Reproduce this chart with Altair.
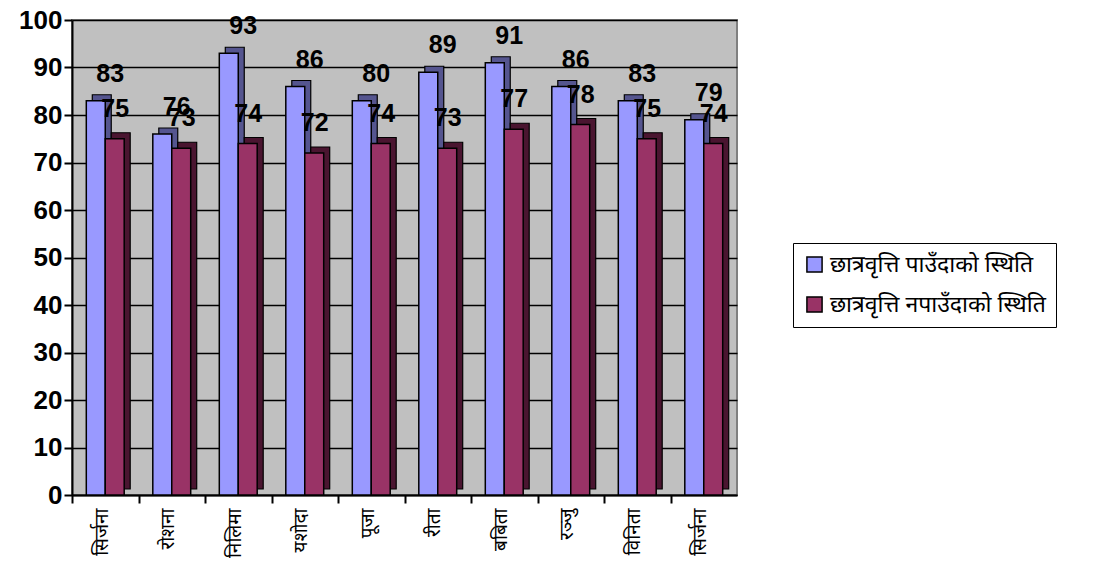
import json
import altair as alt
import pandas as pd

names = ["सिर्जना", "रोशना", "निलिमा", "यशोदा", "पूजा", "रीता", "बबिता", "रञ्जु", "विनिता", "सिर्जना"]
series = ["छात्रवृत्ति पाउँदाको स्थिति", "छात्रवृत्ति नपाउँदाको स्थिति"]
with_scholarship = [83, 76, 93, 86, 83, 89, 91, 86, 83, 79]
with_labels = ["83", "76", "93", "86", "80", "89", "91", "86", "83", "79"]
without_scholarship = [75, 73, 74, 72, 74, 73, 77, 78, 75, 74]
without_labels = ["75", "73", "74", "72", "74", "73", "77", "78", "75", "74"]
front_colors = ["#9999FF", "#993366"]
side_colors = ["#55558F", "#4A1530"]

rows = []
for i, n in enumerate(names):
    rows.append({"idx": i, "series": series[0], "value": with_scholarship[i], "label": with_labels[i], "order": 0})
    rows.append({"idx": i, "series": series[1], "value": without_scholarship[i], "label": without_labels[i], "order": 1})
df = pd.DataFrame(rows)

label_expr = json.dumps(names, ensure_ascii=False) + "[datum.value]"
W = 665
step = W / 10
p_in = 0.43
bandwidth = step * (1 - p_in)
depth = 6

x = alt.X("idx:O", title=None,
          scale=alt.Scale(paddingInner=p_in, paddingOuter=p_in / 2),
          axis=alt.Axis(labelExpr=label_expr, labelAngle=-90, labelAlign="right", labelBaseline="middle",
                        labelFontSize=19, labelFont="Noto Sans", labelColor="black", labelPadding=5,
                        tickOffset=-step / 2, labelOffset=step / 2 - 4, tickColor="black", tickSize=8,
                        tickWidth=2, domainColor="black", domainWidth=2, grid=False))
y = alt.Y("value:Q", title=None,
          scale=alt.Scale(domain=[0, 100], nice=False),
          axis=alt.Axis(values=list(range(0, 101, 10)), labelFontSize=26, labelFontWeight="bold",
                        labelFont="Arial", labelColor="black", tickColor="black", tickSize=8, tickWidth=2,
                        domainColor="black", domainWidth=2, labelPadding=2,
                        grid=True, gridColor="black", gridWidth=1.6))
xo_front = alt.XOffset("series:N", sort=series, scale=alt.Scale(paddingInner=0, range=[0, bandwidth]))
xo_side = alt.XOffset("series:N", sort=series, scale=alt.Scale(paddingInner=0, range=[depth, bandwidth + depth]))
color_side = alt.Color("series:N", sort=series, scale=alt.Scale(domain=series, range=side_colors), legend=None)
color_front = alt.Color("series:N", sort=series, scale=alt.Scale(domain=series, range=front_colors),
                        title=None,
                        legend=alt.Legend(orient="none", legendX=721, legendY=223, symbolType="square",
                                          symbolSize=230, symbolStrokeColor="black", symbolStrokeWidth=1.5,
                                          labelFontSize=23, labelFont="Noto Sans", labelColor="black",
                                          labelLimit=400, rowPadding=16, padding=10, strokeColor="black",
                                          fillColor="white", symbolOffset=0, labelOffset=4))

base = alt.Chart(df)
side = base.mark_bar(yOffset=-depth, stroke="black", strokeWidth=1.2).encode(
    x=x, y=y, xOffset=xo_side, color=color_side)
front = base.mark_bar(stroke="black", strokeWidth=1.5).encode(
    x=x, y=y, xOffset=xo_front, color=color_front)
text_blue = base.transform_filter(alt.datum.order == 0).mark_text(
    dx=5, dy=-27, fontSize=25, fontWeight="bold", font="Arial", color="black").encode(
    x=x, y=y, xOffset=xo_front, text="label:N")
text_red = base.transform_filter(alt.datum.order == 1).mark_text(
    dx=10, dy=-30, fontSize=25, fontWeight="bold", font="Arial", color="black").encode(
    x=x, y=y, xOffset=xo_front, text="label:N")

chart = alt.layer(side, front, text_blue, text_red).resolve_scale(
    color="independent", xOffset="independent").properties(
    width=W, height=475,
    autosize=alt.AutoSizeParams(type="none"),
    padding={"left": 64, "top": 12, "right": 351, "bottom": 69},
    background="white",
).configure_view(fill="#C0C0C0", stroke="#808080", strokeWidth=2)

chart.save("out.html", embed_options={"renderer": "svg", "actions": False})
